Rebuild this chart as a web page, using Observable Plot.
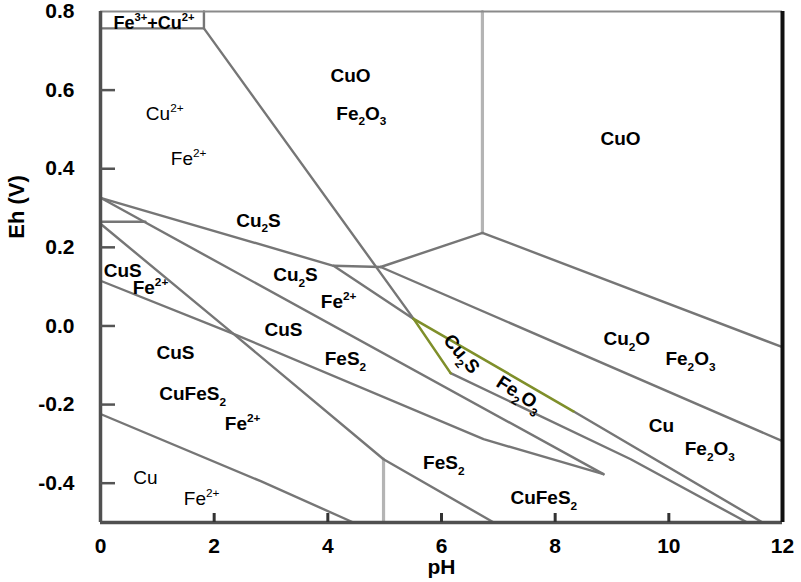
<!DOCTYPE html>
<html><head><meta charset="utf-8">
<script src="https://cdn.jsdelivr.net/npm/d3@7"></script>
<script src="https://cdn.jsdelivr.net/npm/@observablehq/plot@0.6"></script>
<style>body{margin:0;background:#fff} svg{display:block}</style>
</head><body><div id="chart"></div>
<script>
// tick values
const xTicks = [0, 2, 4, 6, 8, 10, 12];
const yTicks = [-0.4, -0.2, 0.0, 0.2, 0.4, 0.6, 0.8];

// boundary lines, [pH, Eh (V)]
const fe3Box        = [[0, 0.757], [1.82, 0.757], [1.82, 0.8]];
const fe2Fe2o3      = [[1.82, 0.757], [5.51, 0.018]];
const greenLeft     = [[5.51, 0.018], [6.16, -0.12]];
const greenTop      = [[5.51, 0.018], [8.32, -0.217]];
const cu2oCuLower   = [[8.32, -0.217], [11.65, -0.5]];
const cuoCu2o       = [[4.93, 0.150], [6.72, 0.237], [12, -0.054]];
const cu2sTop       = [[0, 0.326], [4.10, 0.153], [4.93, 0.150]];
const cu2oCu        = [[4.93, 0.150], [12, -0.293]];
const cu2sApex      = [[4.10, 0.153], [5.51, 0.018]];
const cu2sCuS       = [[0, 0.326], [8.85, -0.377]];
const shortH        = [[0, 0.265], [0.79, 0.265]];
const cusSteep      = [[0, 0.26], [2.34, -0.02], [4.98, -0.339], [6.92, -0.5]];
const cusLower      = [[0, 0.115], [2.34, -0.02], [6.74, -0.288], [8.85, -0.377]];
const chalcoTop     = [[6.16, -0.12], [9.33, -0.339], [11.38, -0.5]];
const cuFe2         = [[0, -0.224], [2.82, -0.395], [4.45, -0.5]];
// light vertical boundaries
const cuoVertical   = [[6.72, 0.8], [6.72, 0.237]];
const fes2Vertical  = [[4.98, -0.339], [4.98, -0.5]];

// labels
const boldLabels = [
  {t: "CuO", pH: 4.40, Eh: 0.637},
  {t: "Fe₂O₃", pH: 4.59, Eh: 0.540},
  {t: "CuO", pH: 9.15, Eh: 0.476},
  {t: "Cu₂S", pH: 2.78, Eh: 0.268},
  {t: "CuS", pH: 0.39, Eh: 0.140},
  {t: "Fe²⁺", pH: 0.88, Eh: 0.097},
  {t: "Cu₂S", pH: 3.43, Eh: 0.130},
  {t: "Fe²⁺", pH: 4.19, Eh: 0.061},
  {t: "CuS", pH: 3.22, Eh: -0.010},
  {t: "FeS₂", pH: 4.31, Eh: -0.084},
  {t: "CuS", pH: 1.32, Eh: -0.069},
  {t: "CuFeS₂", pH: 1.62, Eh: -0.173},
  {t: "Fe²⁺", pH: 2.50, Eh: -0.250},
  {t: "FeS₂", pH: 6.04, Eh: -0.349},
  {t: "CuFeS₂", pH: 7.80, Eh: -0.438},
  {t: "Cu₂O", pH: 9.26, Eh: -0.033},
  {t: "Fe₂O₃", pH: 10.38, Eh: -0.084},
  {t: "Cu", pH: 9.87, Eh: -0.255},
  {t: "Fe₂O₃", pH: 10.72, Eh: -0.313}
];
const plainLabels = [
  {t: "Cu²⁺", pH: 1.13, Eh: 0.540},
  {t: "Fe²⁺", pH: 1.55, Eh: 0.425},
  {t: "Cu", pH: 0.79, Eh: -0.387},
  {t: "Fe²⁺", pH: 1.78, Eh: -0.440}
];
const topLabel = [{t: "Fe³⁺+Cu²⁺", pH: 0.94, Eh: 0.770}];
const rotatedCu2s = [{t: "Cu₂S", pH: 6.35, Eh: -0.071}];
const rotatedFe2o3 = [{t: "Fe₂O₃", pH: 7.37, Eh: -0.173}];

const toRows = (id, pts) => pts.map(([pH, Eh]) => ({id, pH, Eh}));
const grayLines = [
  ["fe3Box", fe3Box], ["fe2Fe2o3", fe2Fe2o3], ["cu2oCuLower", cu2oCuLower],
  ["cuoCu2o", cuoCu2o], ["cu2sTop", cu2sTop], ["cu2oCu", cu2oCu], ["cu2sApex", cu2sApex],
  ["cu2sCuS", cu2sCuS], ["shortH", shortH], ["cusSteep", cusSteep], ["cusLower", cusLower],
  ["chalcoTop", chalcoTop], ["cuFe2", cuFe2]
].flatMap(([id, p]) => toRows(id, p));
const greenLines = [["gl", greenLeft], ["gt", greenTop]].flatMap(([id, p]) => toRows(id, p));
const lightLines = [["cv", cuoVertical], ["fv", fes2Vertical]].flatMap(([id, p]) => toRows(id, p));

const font = "'Liberation Sans', Arial, Helvetica, sans-serif";
const plot = Plot.plot({
  width: 801, height: 582,
  marginLeft: 100, marginRight: 19, marginTop: 11, marginBottom: 60,
  style: {fontFamily: font, background: "#fff", color: "#000"},
  x: {domain: [0, 12]},
  y: {domain: [-0.5, 0.8]},
  marks: [
    Plot.line(lightLines, {x: "pH", y: "Eh", z: "id", stroke: "#b4b4b4", strokeWidth: 3.2}),
    Plot.line(grayLines, {x: "pH", y: "Eh", z: "id", stroke: "#767676", strokeWidth: 2.4}),
    Plot.line(greenLines, {x: "pH", y: "Eh", z: "id", stroke: "#7f8f2a", strokeWidth: 2.6}),
    Plot.ruleY([0.8], {stroke: "#8a8a8a", strokeWidth: 2}),
    Plot.ruleX([0], {stroke: "#505050", strokeWidth: 3.5}),
    Plot.ruleY([-0.5], {stroke: "#505050", strokeWidth: 3.5}),
    Plot.ruleX([12], {stroke: "#111", strokeWidth: 4}),
    Plot.tickX(xTicks.slice(1, -1), {x: d => d, insetTop: 502, stroke: "#333", strokeWidth: 3}),
    Plot.tickY(yTicks.slice(0, -1), {y: d => d, insetRight: 667, stroke: "#555", strokeWidth: 2.5}),
    Plot.axisX(xTicks, {tickSize: 0, tickPadding: 16, fontSize: 21, fontWeight: "bold", label: null, tickFormat: d => String(d)}),
    Plot.axisY(yTicks, {tickSize: 0, tickPadding: 26, fontSize: 21, fontWeight: "bold", label: null, tickFormat: d => d.toFixed(1)}),
    Plot.text(["pH"], {frameAnchor: "bottom", textAnchor: "middle", lineAnchor: "middle", dy: 45, fontSize: 21, fontWeight: "bold", fill: "#000"}),
    Plot.text(["Eh (V)"], {frameAnchor: "left", textAnchor: "middle", lineAnchor: "middle", rotate: -90, dx: -84, dy: -60, fontSize: 22, fontWeight: "bold", fill: "#000"}),
    Plot.text(boldLabels, {x: "pH", y: "Eh", text: "t", fontSize: 19, fontWeight: "bold", fill: "#000"}),
    Plot.text(plainLabels, {x: "pH", y: "Eh", text: "t", fontSize: 19, fontWeight: "normal", fill: "#000"}),
    Plot.text(topLabel, {x: "pH", y: "Eh", text: "t", fontSize: 18, fontWeight: "bold", fill: "#000"}),
    Plot.text(rotatedCu2s, {x: "pH", y: "Eh", text: "t", rotate: 50, fontSize: 19, fontWeight: "bold", fill: "#000"}),
    Plot.text(rotatedFe2o3, {x: "pH", y: "Eh", text: "t", rotate: 33, fontSize: 19, fontWeight: "bold", fill: "#000"})
  ]
});
document.getElementById("chart").appendChild(plot);

// render sub/superscripts as tspans
const subMap = {"₂": "2", "₃": "3"};
const supMap = {"²": "2", "³": "3", "⁺": "+"};
plot.querySelectorAll("text").forEach(el => {
  const s = el.textContent;
  if (!/[₂₃²³⁺]/.test(s)) return;
  const F = parseFloat(getComputedStyle(el).fontSize) || 19;
  const segs = [];
  for (const ch of s) {
    const type = subMap[ch] ? "sub" : supMap[ch] ? "sup" : "n";
    const c = subMap[ch] || supMap[ch] || ch;
    if (segs.length && segs[segs.length - 1].type === type) segs[segs.length - 1].s += c;
    else segs.push({type, s: c});
  }
  while (el.firstChild) el.removeChild(el.firstChild);
  let shift = 0;
  for (const seg of segs) {
    const t = document.createElementNS("http://www.w3.org/2000/svg", "tspan");
    const target = seg.type === "sub" ? 0.3 * F : seg.type === "sup" ? -0.42 * F : 0;
    if (target !== shift) { t.setAttribute("dy", target - shift); shift = target; }
    if (seg.type !== "n") t.setAttribute("font-size", (0.62 * F).toFixed(1));
    t.textContent = seg.s;
    el.appendChild(t);
  }
});
</script>
</body></html>
